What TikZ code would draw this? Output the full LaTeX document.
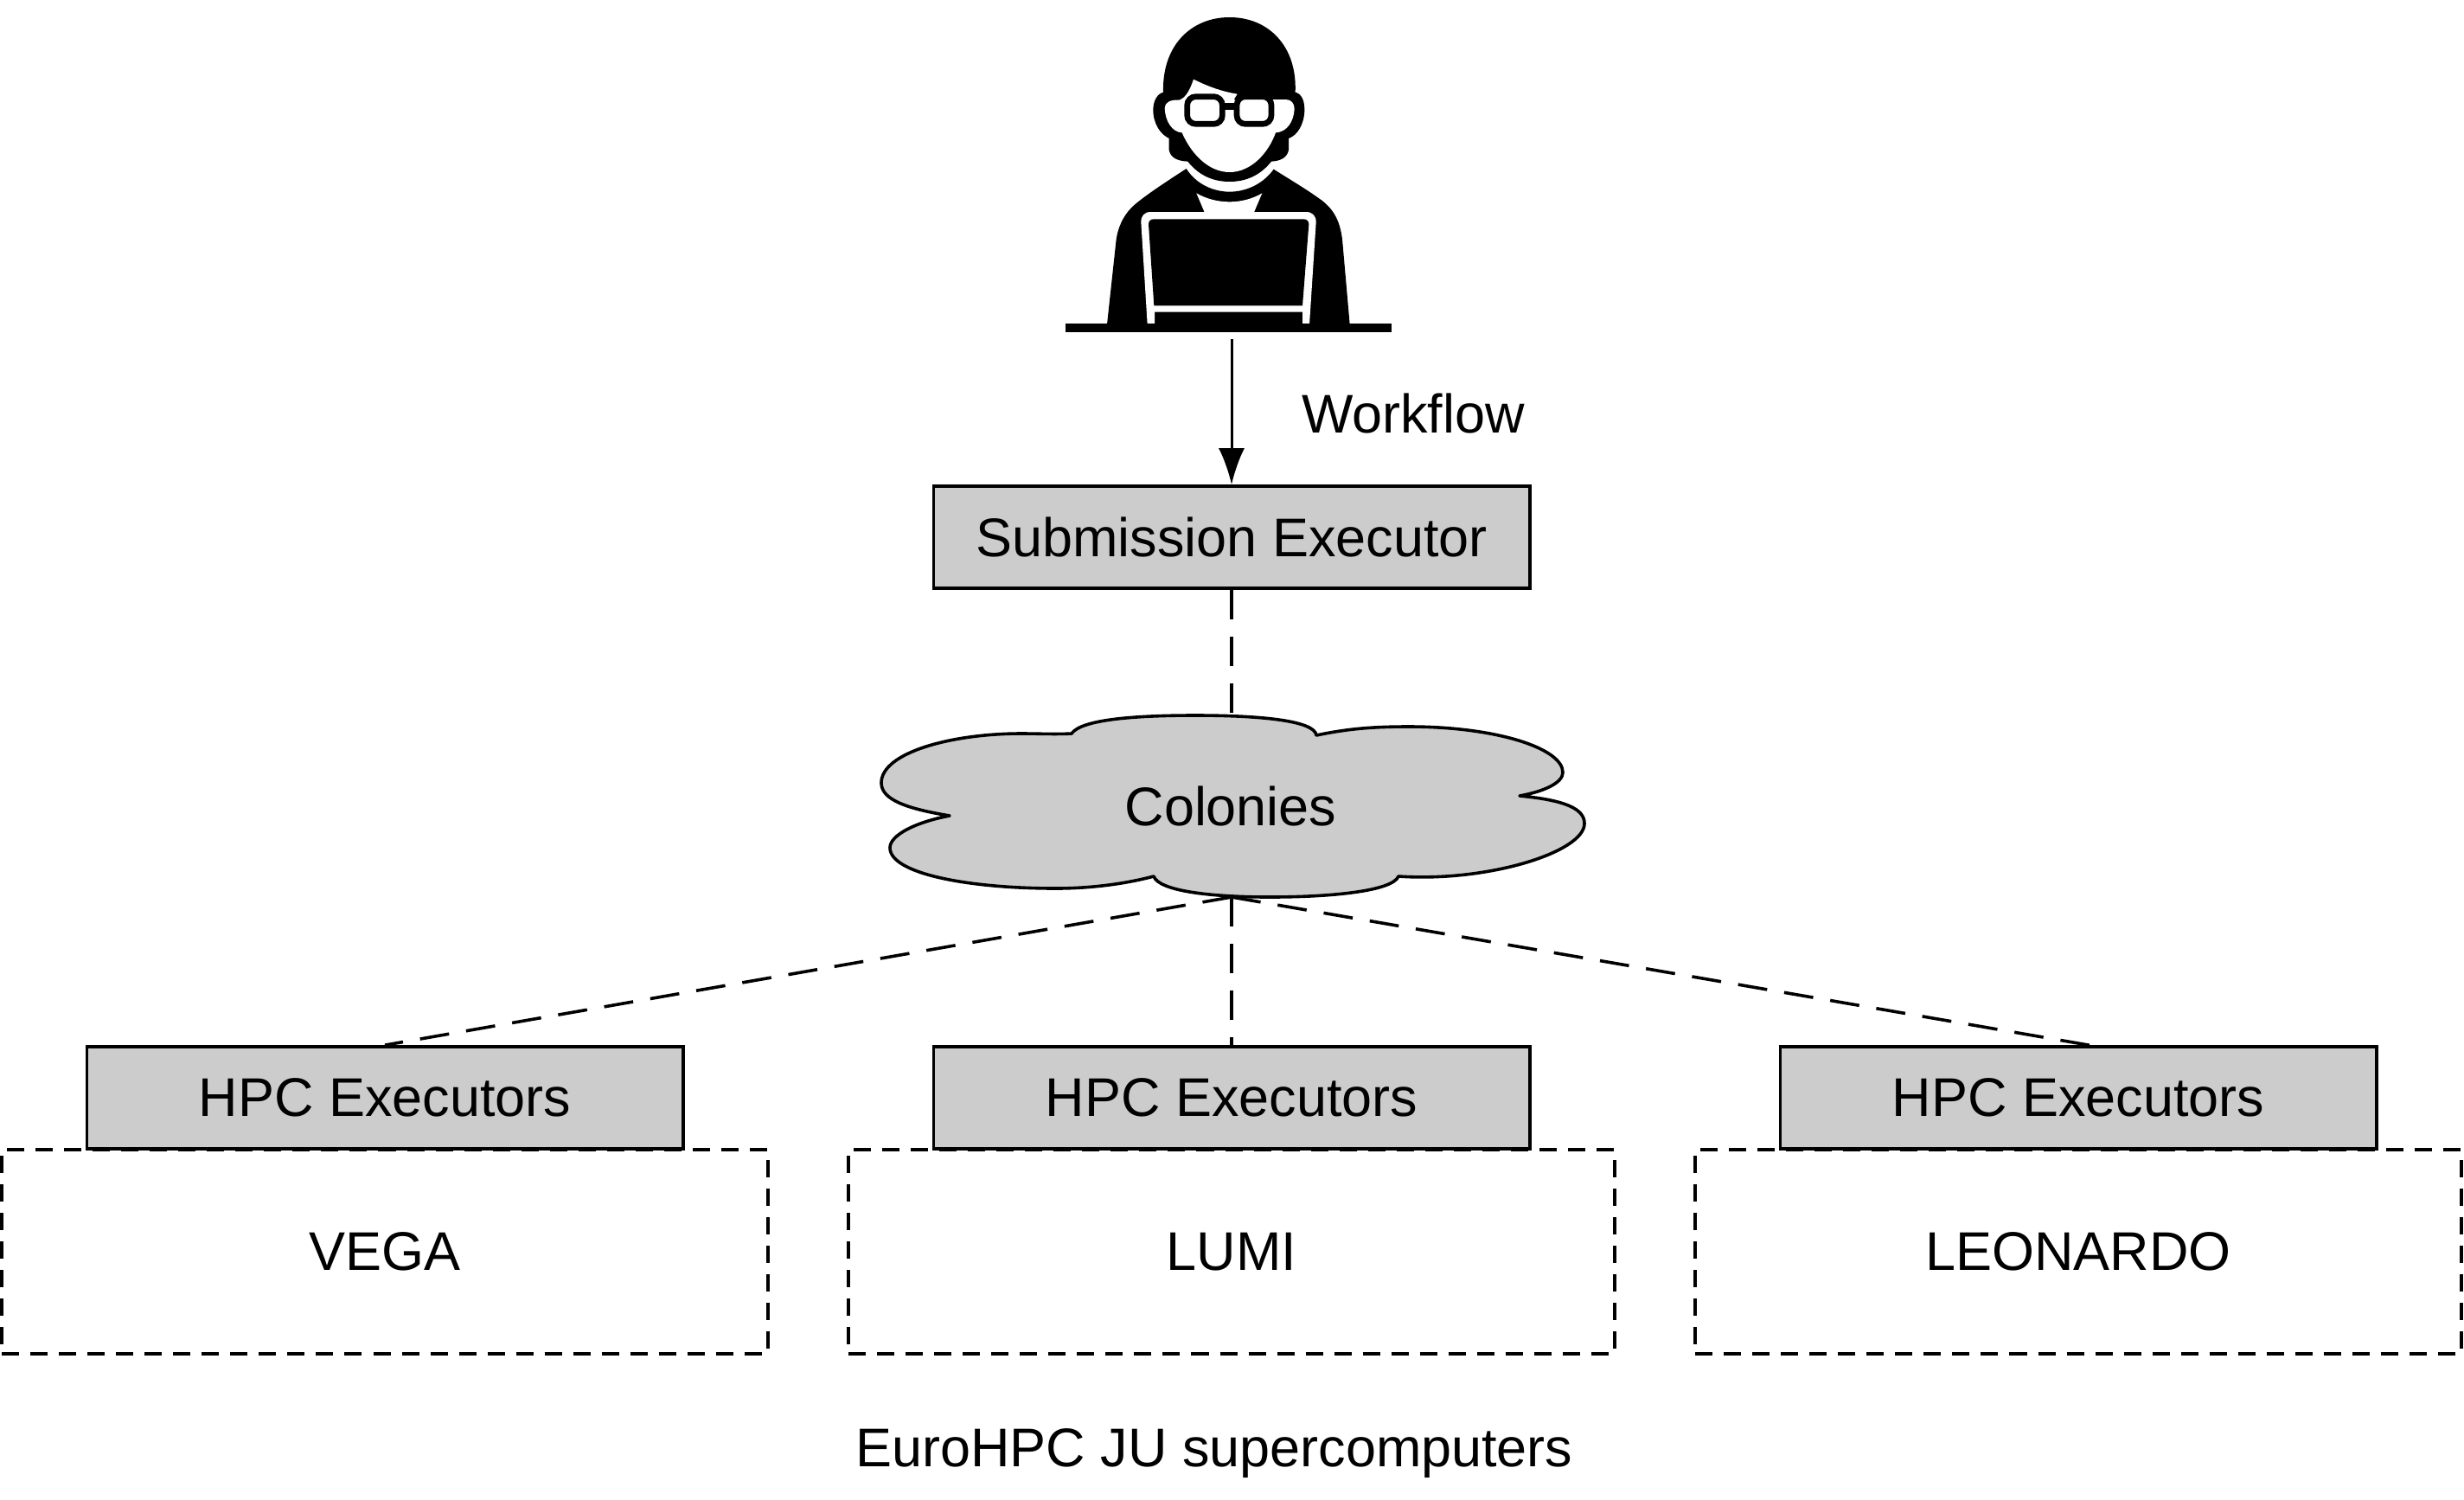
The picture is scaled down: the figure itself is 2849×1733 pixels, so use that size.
\documentclass[tikz,border=0pt]{standalone}
\usepackage{fontspec}
\setmainfont{Liberation Sans}
\usetikzlibrary{arrows.meta}
\tikzset{
  execbox/.style={draw, fill=boxgray, line width=0.036cm, inner sep=0pt, minimum width=6.89cm, minimum height=1.18cm},
  sitebox/.style={draw, line width=0.04cm, dash pattern=on 0.2cm off 0.13cm, inner sep=0pt, minimum width=8.85cm, minimum height=2.36cm},
  link/.style={line width=0.036cm, dash pattern=on 0.34cm off 0.2cm},
}
\definecolor{boxgray}{gray}{0.8}
\begin{document}
\begin{tikzpicture}[x=0.01cm, y=-0.01cm, font=\fontsize{17.9}{20}\selectfont]
\useasboundingbox (0,0) rectangle (2849,1733);

% User
\begin{scope}[shift={(1200,0)}, scale=0.33333]
\fill (515,585) .. controls (430,640) and (355,690) .. (325,720) .. controls (295,750) and (278,790) .. (272,830) -- (240,1125) -- (1082,1125) -- (1056,830) .. controls (1048,770) and (1030,730) .. (985,695) .. controls (930,655) and (870,620) .. (818,587) .. controls (780,640) and (720,665) .. (665,665) .. controls (610,665) and (550,640) .. (515,585) -- cycle;
\fill (435,320) .. controls (430,160) and (530,60) .. (665,60) .. controls (800,60) and (900,160) .. (893,320) .. controls (915,325) and (925,350) .. (925,380) .. controls (925,430) and (900,470) .. (870,480) -- (870,520) .. controls (865,545) and (845,558) .. (810,560) .. controls (770,610) and (720,630) .. (665,630) .. controls (610,630) and (560,610) .. (520,560) .. controls (480,558) and (460,545) .. (455,520) -- (455,480) .. controls (425,465) and (400,430) .. (400,380) .. controls (400,350) and (415,325) .. (435,320) -- cycle;
\fill[white] (440,375) .. controls (440,355) and (460,345) .. (490,347) .. controls (515,340) and (530,305) .. (540,275) .. controls (590,300) and (640,318) .. (692,326) -- (680,345) -- (860,345) .. controls (880,345) and (890,360) .. (890,378) .. controls (888,420) and (865,458) .. (825,460) .. controls (800,530) and (740,597) .. (665,597) .. controls (590,597) and (530,530) .. (500,460) .. controls (465,458) and (442,420) .. (440,375) -- cycle;
\draw[line width=0.0667cm, fill=white, rounded corners=0.1cm] (518,335) rectangle (640,430);
\draw[line width=0.0667cm, fill=white, rounded corners=0.1cm] (690,335) rectangle (810,430);
\fill (648,356) rectangle (682,380);
\fill[white] (550,670) .. controls (620,710) and (710,710) .. (778,670) -- (750,736) -- (578,736) -- cycle;
\fill[white] (358,770) .. controls (358,748) and (370,735) .. (392,735) -- (930,735) .. controls (952,735) and (965,748) .. (965,770) -- (942,1125) -- (918,1125) -- (918,1082) -- (405,1082) -- (405,1125) -- (380,1125) -- cycle;
\fill (384,778) .. controls (384,766) and (392,760) .. (402,760) -- (922,760) .. controls (934,760) and (940,768) .. (940,778) -- (918,1060) -- (403,1060) -- cycle;
\fill (95,1122) rectangle (1228,1153);
\end{scope}
\coordinate (user) at (1424,392);

% Submission
\node[execbox] (submit) at (1424,621) {Submission Executor};
\draw[line width=0.03cm, -{Latex[length=0.42cm, width=0.3cm]}] (user) -- (submit.north);
\node (workflow) at (1634,478) {Workflow};

% Cloud
\draw[fill=boxgray, line width=0.036cm, line join=round] (1239,848) .. controls (1250,832) and (1310,827) .. (1382,827)
  .. controls (1450,827) and (1520,832) .. (1522,850) .. controls (1560,842) and (1590,840) .. (1629,840)
  .. controls (1730,840) and (1807,865) .. (1807,893) .. controls (1807,905) and (1785,915) .. (1757,920)
  .. controls (1810,925) and (1832,935) .. (1832,952) .. controls (1832,985) and (1720,1020) .. (1617,1013)
  .. controls (1610,1030) and (1540,1037) .. (1468,1037) .. controls (1400,1037) and (1340,1030) .. (1334,1013)
  .. controls (1300,1022) and (1260,1027) .. (1221,1027) .. controls (1120,1027) and (1029,1010) .. (1029,980)
  .. controls (1029,965) and (1060,950) .. (1098,943) .. controls (1050,935) and (1019,925) .. (1019,905)
  .. controls (1019,870) and (1100,848) .. (1181,848) .. controls (1200,848) and (1220,849) .. (1239,848) -- cycle;
\node (colonies) at (1423,932) {Colonies};
\coordinate (cloudtop) at (1424,827);
\coordinate (cloudbot) at (1424,1037);

% Sites
\node[sitebox] (vega) at (445,1447) {VEGA};
\node[sitebox] (lumi) at (1424,1447) {LUMI};
\node[sitebox] (leonardo) at (2403,1447) {LEONARDO};
\node[execbox] (hpcvega) at (445,1269) {HPC Executors};
\node[execbox] (hpclumi) at (1424,1269) {HPC Executors};
\node[execbox] (hpcleonardo) at (2403,1269) {HPC Executors};
\coordinate (endleonardo) at (2426,1210);

\draw[link] (submit.south) -- (cloudtop);
\draw[link] (cloudbot) -- (hpcvega.north);
\draw[link] (cloudbot) -- (hpclumi.north);
\draw[link] (cloudbot) -- (endleonardo);

\node (caption) at (1404,1680) {EuroHPC JU supercomputers};
\end{tikzpicture}
\end{document}
